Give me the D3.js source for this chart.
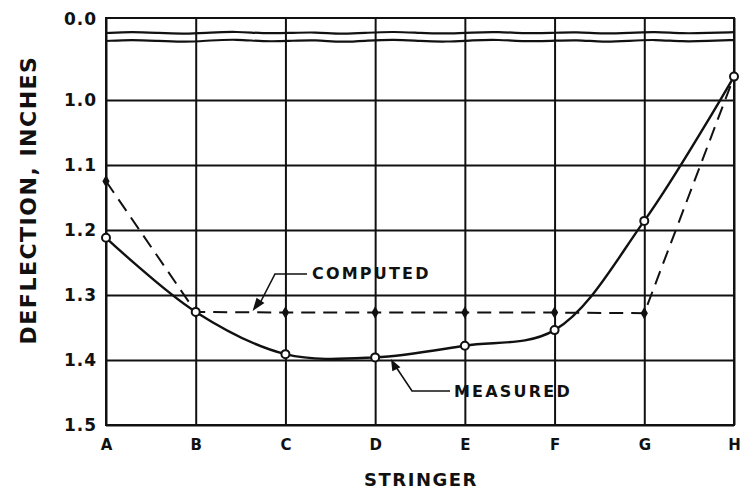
<!DOCTYPE html>
<html>
<head>
<meta charset="utf-8">
<script src="https://cdn.jsdelivr.net/npm/d3@7"></script>
<style>
  body { margin: 0; background: #fff; }
  svg text { font-family: "DejaVu Sans", sans-serif; font-weight: bold; fill: #111; }
</style>
</head>
<body>
<svg width="743" height="490"></svg>
<script>
const stringers = ["A", "B", "C", "D", "E", "F", "G", "H"];
const measured = [1.212, 1.326, 1.391, 1.396, 1.378, 1.354, 1.186, 0.964];
const computed = [1.125, 1.326, 1.327, 1.327, 1.327, 1.327, 1.328, 0.964];
const yTicks = [1.0, 1.1, 1.2, 1.3, 1.4, 1.5];

const svg = d3.select("svg");
const mLeft = 106, mRight = 734, mTop = 18, mBottom = 425;

const x = d3.scalePoint().domain(stringers).range([mLeft, mRight]);
const y = d3.scaleLinear().domain([1.0, 1.5]).range([100, mBottom]);

// grid
const gx = svg.append("g")
  .attr("transform", `translate(0,${mBottom})`)
  .call(d3.axisBottom(x).tickSize(-(mBottom - mTop)).tickPadding(14));
gx.select(".domain").remove();
gx.selectAll("line").attr("stroke", "#111").attr("stroke-width", 2);
gx.selectAll("text").attr("font-size", 15).attr("fill", "#111");

const gy = svg.append("g")
  .attr("transform", `translate(${mLeft},0)`)
  .call(d3.axisLeft(y).tickValues(yTicks).tickFormat(d3.format(".1f"))
    .tickSize(-(mRight - mLeft)).tickPadding(9));
gy.select(".domain").remove();
gy.selectAll("line").attr("stroke", "#111").attr("stroke-width", 2);
gy.selectAll("text").attr("font-size", 17).attr("letter-spacing", 1).attr("fill", "#111").attr("dy", "0.35em");

// frame
svg.append("rect")
  .attr("x", mLeft).attr("y", mTop)
  .attr("width", mRight - mLeft).attr("height", mBottom - mTop)
  .attr("fill", "none").attr("stroke", "#111").attr("stroke-width", 2);

svg.append("text")
  .attr("x", mLeft - 9).attr("y", mTop + 1).attr("dy", "0.35em")
  .attr("text-anchor", "end").attr("font-size", 17).attr("letter-spacing", 1)
  .text("0.0");

// axis break
const wiggle = [0, 1.2, 0, -1, 0.5, 1.5, -0.5, 0, 1, -1.2, 0.3, 1.4, 0, -0.8, 0.6, 1.2, -0.4, 0, 1.1, -1, 0.2, 1.3, -0.6, 0, 0.8];
const wx = d3.scaleLinear().domain([0, wiggle.length - 1]).range([mLeft, mRight]);
[33, 41].forEach((base, k) => {
  svg.append("path")
    .datum(wiggle)
    .attr("fill", "none").attr("stroke", "#111").attr("stroke-width", 2.2)
    .attr("d", d3.line().x((d, i) => wx(i)).y(d => base - d * (k ? 1.2 : 1)).curve(d3.curveBasis));
});

// computed (dashed)
svg.append("path")
  .datum(computed)
  .attr("fill", "none").attr("stroke", "#111").attr("stroke-width", 2)
  .attr("stroke-dasharray", "14,8")
  .attr("d", d3.line().x((d, i) => x(stringers[i])).y(d => y(d)));

svg.append("g").selectAll("path")
  .data(computed)
  .join("path")
  .attr("transform", (d, i) => `translate(${x(stringers[i])},${y(d)})`)
  .attr("d", d3.symbol(d3.symbolDiamond, 45))
  .attr("fill", "#111");

// measured (solid)
svg.append("path")
  .datum(measured)
  .attr("fill", "none").attr("stroke", "#111").attr("stroke-width", 2.4)
  .attr("d", d3.line().x((d, i) => x(stringers[i])).y(d => y(d)).curve(d3.curveCatmullRom.alpha(0.5)));

svg.append("g").selectAll("circle")
  .data(measured)
  .join("circle")
  .attr("cx", (d, i) => x(stringers[i]))
  .attr("cy", d => y(d))
  .attr("r", 4)
  .attr("fill", "#fff").attr("stroke", "#111").attr("stroke-width", 2);

// annotations
const ann = svg.append("g").attr("fill", "none").attr("stroke", "#111").attr("stroke-width", 1.6);
ann.append("path").attr("d", "M307,274 H275 L259,305");
ann.append("path").attr("d", "M254,309 L257,299 L263,303 Z").attr("fill", "#111");
svg.append("text").attr("x", 312).attr("y", 279).attr("font-size", 16).attr("letter-spacing", 2.2).text("COMPUTED");

ann.append("path").attr("d", "M450,391 H412 L396,367");
ann.append("path").attr("d", "M392,361 L399,367 L393,370 Z").attr("fill", "#111");
svg.append("text").attr("x", 454).attr("y", 397).attr("font-size", 16).attr("letter-spacing", 2.2).text("MEASURED");

// axis titles
svg.append("text")
  .attr("x", 421).attr("y", 486)
  .attr("text-anchor", "middle").attr("font-size", 18).attr("letter-spacing", 1.5)
  .text("STRINGER");

svg.append("text")
  .attr("transform", "translate(36,200) rotate(-90)")
  .attr("text-anchor", "middle").attr("font-size", 22).attr("letter-spacing", 1.5)
  .text("DEFLECTION,  INCHES");
</script>
</body>
</html>
